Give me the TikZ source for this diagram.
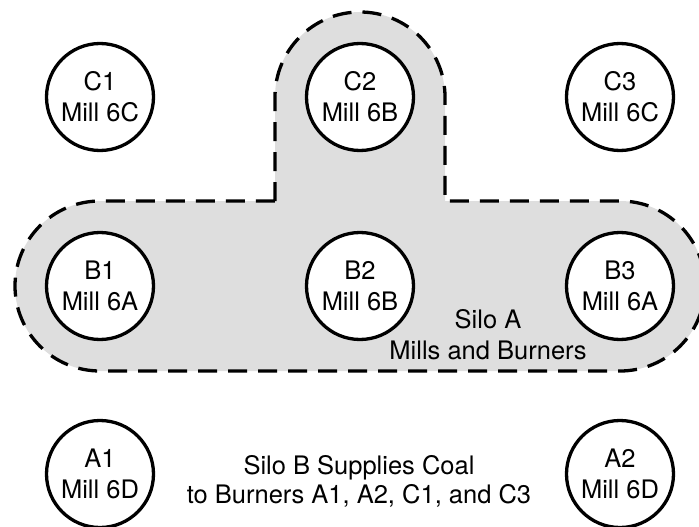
\documentclass[tikz,border=0pt]{standalone}
\usepackage{fontspec}
\setmainfont{TeX Gyre Heros}
\definecolor{silofill}{RGB}{222,222,222}
\begin{document}
\begin{tikzpicture}[x=1pt,y=-1pt,
  burner/.style={circle, draw=black, fill=white, line width=3.3pt,
    minimum size=107pt, inner sep=0pt, align=center,
    font=\fontsize{25.5}{31}\selectfont},
  label/.style={align=center, inner sep=0pt},
  silo/.style={fill=silofill, draw=black, line width=3.3pt,
    dash pattern=on 19pt off 11pt}]
\useasboundingbox (0,0) rectangle (699,527);

% Silo A outline: lobe around C2/B2 joined to the bar around row B
\path[silo] (275,201) -- (275,97)
  arc[start angle=180, end angle=0, radius=85pt] -- (445,201) -- (620,201)
  arc[start angle=90, end angle=-90, radius=85pt] -- (100,371)
  arc[start angle=270, end angle=90, radius=85pt] -- cycle;

% Burners
\node[burner] (c1) at (100,97)  {C1\\Mill 6C};
\node[burner] (c2) at (360,97)  {C2\\Mill 6B};
\node[burner] (c3) at (620,97)  {C3\\Mill 6C};
\node[burner] (b1) at (100,286) {B1\\Mill 6A};
\node[burner] (b2) at (360,286) {B2\\Mill 6B};
\node[burner] (b3) at (620,286) {B3\\Mill 6A};
\node[burner] (a1) at (100,474) {A1\\Mill 6D};
\node[burner] (a2) at (620,474) {A2\\Mill 6D};

% Captions
\node[label, font=\fontsize{25.5}{31}\selectfont] (siloa) at (488,334.4)
  {Silo A\\Mills and Burners};
\node[label, font=\fontsize{25.5}{29}\selectfont] (silob) at (359,481.5)
  {Silo B Supplies Coal\\to Burners A1, A2, C1, and C3};
\end{tikzpicture}
\end{document}
